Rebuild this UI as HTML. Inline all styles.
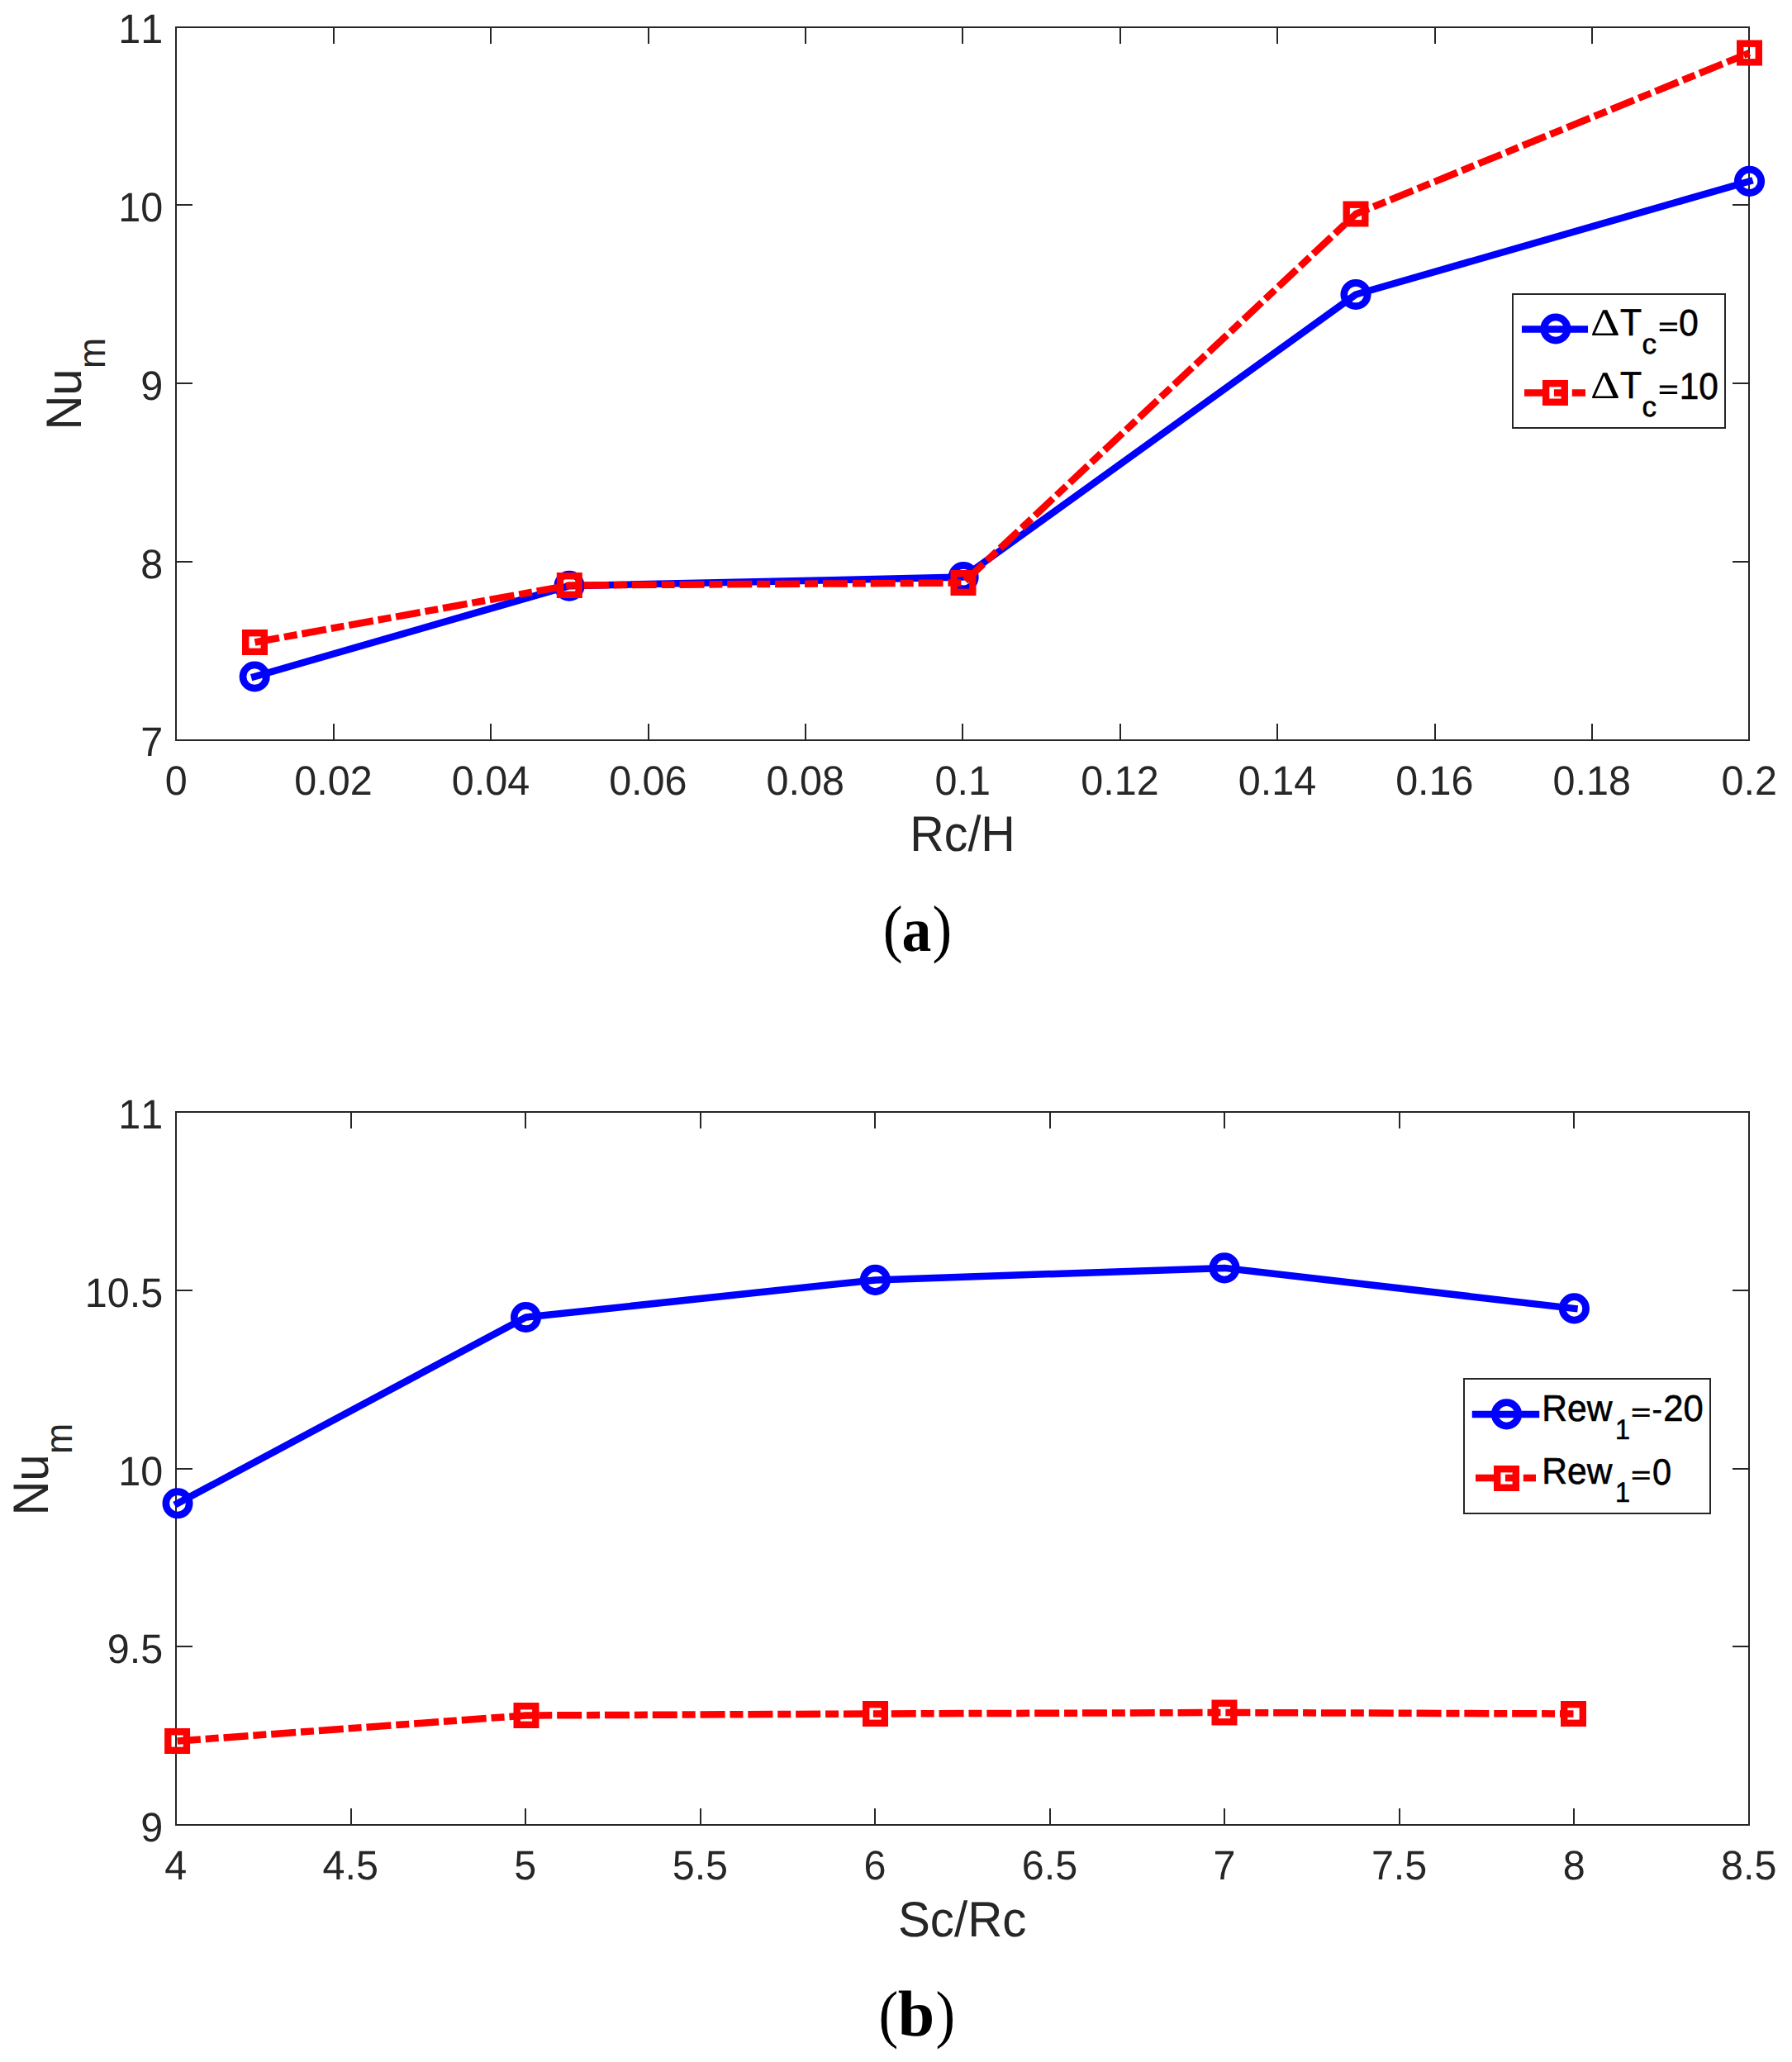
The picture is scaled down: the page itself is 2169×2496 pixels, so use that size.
<!DOCTYPE html>
<html lang="en"><head><meta charset="utf-8"><title>Nu_m plots</title>
<style>html,body{margin:0;padding:0;background:#fff}body{width:2169px;height:2496px;overflow:hidden}svg{display:block}text{font-family:"Liberation Sans",sans-serif;font-kerning:none;text-rendering:geometricPrecision}.cap{font-family:"Liberation Serif",serif}</style>
</head><body>
<svg width="2169" height="2496" viewBox="0 0 2169 2496">
<rect width="2169" height="2496" fill="#fff"/>
<rect x="213" y="33" width="1904" height="863" fill="#fff" stroke="#262626" stroke-width="2"/>
<path d="M404 896v-20M404 33v20M594 896v-20M594 33v20M785 896v-20M785 33v20M975 896v-20M975 33v20M1165 896v-20M1165 33v20M1356 896v-20M1356 33v20M1546 896v-20M1546 33v20M1737 896v-20M1737 33v20M1927 896v-20M1927 33v20M213 680h20M2117 680h-20M213 464h20M2117 464h-20M213 248h20M2117 248h-20" fill="none" stroke="#262626" stroke-width="2"/>
<g font-size="48.5" fill="#262626" text-anchor="middle">
<text transform="translate(213.15,961.5) scale(1,1.025)">0</text>
<text transform="translate(403.55,961.5) scale(1,1.025)">0.02</text>
<text transform="translate(593.95,961.5) scale(1,1.025)">0.04</text>
<text transform="translate(784.35,961.5) scale(1,1.025)">0.06</text>
<text transform="translate(974.75,961.5) scale(1,1.025)">0.08</text>
<text transform="translate(1165.15,961.5) scale(1,1.025)">0.1</text>
<text transform="translate(1355.55,961.5) scale(1,1.025)">0.12</text>
<text transform="translate(1545.95,961.5) scale(1,1.025)">0.14</text>
<text transform="translate(1736.35,961.5) scale(1,1.025)">0.16</text>
<text transform="translate(1926.75,961.5) scale(1,1.025)">0.18</text>
<text transform="translate(2117.15,961.5) scale(1,1.025)">0.2</text>
</g>
<g font-size="48.5" fill="#262626" text-anchor="end">
<text transform="translate(197.2,915.4) scale(1,1.025)">7</text>
<text transform="translate(197.2,699.65) scale(1,1.025)">8</text>
<text transform="translate(197.2,483.9) scale(1,1.025)">9</text>
<text transform="translate(197.2,268.15) scale(1,1.025)">10</text>
<text transform="translate(197.2,52.4) scale(1,1.025)">11</text>
</g>
<polyline points="308.2,819 689,709.2 1166.1,698.6 1641,356.5 2117.5,219.4" fill="none" stroke="#0000ff" stroke-width="8.5" stroke-linecap="square" stroke-linejoin="round"/>
<circle cx="308.2" cy="819" r="14.2" fill="none" stroke="#0000ff" stroke-width="8.7"/>
<circle cx="689" cy="709.2" r="14.2" fill="none" stroke="#0000ff" stroke-width="8.7"/>
<circle cx="1166.1" cy="698.6" r="14.2" fill="none" stroke="#0000ff" stroke-width="8.7"/>
<circle cx="1641" cy="356.5" r="14.2" fill="none" stroke="#0000ff" stroke-width="8.7"/>
<circle cx="2117.5" cy="219.4" r="14.2" fill="none" stroke="#0000ff" stroke-width="8.7"/>
<polyline points="308.5,777.5 689.3,708.5 1166,705.5 1641,259 2117.5,64" fill="none" stroke="#ff0000" stroke-width="8.5" stroke-dasharray="30 5.9 16 5.9" stroke-dashoffset="0" stroke-linejoin="round"/>
<rect x="297.2" y="766.2" width="22.6" height="22.6" fill="none" stroke="#ff0000" stroke-width="8.4"/>
<rect x="678" y="697.2" width="22.6" height="22.6" fill="none" stroke="#ff0000" stroke-width="8.4"/>
<rect x="1154.7" y="694.2" width="22.6" height="22.6" fill="none" stroke="#ff0000" stroke-width="8.4"/>
<rect x="1629.7" y="247.7" width="22.6" height="22.6" fill="none" stroke="#ff0000" stroke-width="8.4"/>
<rect x="2106.2" y="52.7" width="22.6" height="22.6" fill="none" stroke="#ff0000" stroke-width="8.4"/>
<text transform="translate(1101.2,1030.35) scale(0.9902,1.0400)" font-size="58" fill="#262626">Rc/H</text>
<g transform="translate(98,464) rotate(-90)" fill="#262626">
<text transform="translate(-56.55,0) scale(1,1.04)" font-size="58">Nu</text>
<text transform="translate(18.06,29) scale(1,1.04)" font-size="44.5">m</text>
</g>
<rect x="1831" y="356" width="257" height="162" fill="#fff" stroke="#262626" stroke-width="2"/>
<path d="M1846.2 398.5H1917.8" stroke="#0000ff" stroke-width="8.5" stroke-linecap="square" fill="none"/>
<circle cx="1882.9" cy="398" r="14.2" fill="none" stroke="#0000ff" stroke-width="8.7"/>
<path d="M1845 475.5H1919" stroke="#ff0000" stroke-width="8.5" stroke-dasharray="30 5.9 16 5.9" fill="none"/>
<rect x="1871.15" y="464.15" width="22.6" height="22.6" fill="none" stroke="#ff0000" stroke-width="8.4"/>
<text class="cap" transform="translate(1925,405.8) scale(1.2914,1.0807)" font-size="43.2" fill="#000">Δ</text>
<text transform="translate(1961.01,405.8) scale(0.9887,1.0689)" font-size="43.2" fill="#000" stroke="#000" stroke-width="0.6">T</text>
<text transform="translate(1987.45,427.62) scale(1.0325,1.0148)" font-size="34" fill="#000" stroke="#000" stroke-width="0.6">c</text>
<text font-weight="bold" transform="translate(2006.99,405.23) scale(0.9793,0.6412)" font-size="43.2" fill="#000">=</text>
<text transform="translate(2032.07,406.31) scale(0.9891,1.0351)" font-size="43.2" fill="#000" stroke="#000" stroke-width="0.6">0</text>
<text class="cap" transform="translate(1925,481.8) scale(1.2914,1.0807)" font-size="43.2" fill="#000">Δ</text>
<text transform="translate(1961.01,481.8) scale(0.9887,1.0689)" font-size="43.2" fill="#000" stroke="#000" stroke-width="0.6">T</text>
<text transform="translate(1987.45,503.62) scale(1.0325,1.0148)" font-size="34" fill="#000" stroke="#000" stroke-width="0.6">c</text>
<text font-weight="bold" transform="translate(2006.99,481.23) scale(0.9793,0.6412)" font-size="43.2" fill="#000">=</text>
<text transform="translate(2032.71,482.51) scale(0.9809,1.0449)" font-size="43.2" fill="#000" stroke="#000" stroke-width="0.6">10</text>
<text class="cap" transform="translate(1068.66,1149.53) scale(0.9316,1.0086)" font-size="77" fill="#000">(</text>
<text class="cap" font-weight="bold" transform="translate(1091.54,1150.51) scale(0.9938,1.0580)" font-size="72" fill="#000">a</text>
<text class="cap" transform="translate(1128.6,1149.53) scale(0.9215,1.0086)" font-size="77" fill="#000">)</text>
<rect x="213" y="1346" width="1904" height="863" fill="#fff" stroke="#262626" stroke-width="2"/>
<path d="M425 2209v-20M425 1346v20M636 2209v-20M636 1346v20M848 2209v-20M848 1346v20M1059 2209v-20M1059 1346v20M1271 2209v-20M1271 1346v20M1482 2209v-20M1482 1346v20M1694 2209v-20M1694 1346v20M1905 2209v-20M1905 1346v20M213 1993h20M2117 1993h-20M213 1778h20M2117 1778h-20M213 1562h20M2117 1562h-20" fill="none" stroke="#262626" stroke-width="2"/>
<g font-size="48.5" fill="#262626" text-anchor="middle">
<text transform="translate(212.7,2274.5) scale(1,1.025)">4</text>
<text transform="translate(424.26,2274.5) scale(1,1.025)">4.5</text>
<text transform="translate(635.81,2274.5) scale(1,1.025)">5</text>
<text transform="translate(847.37,2274.5) scale(1,1.025)">5.5</text>
<text transform="translate(1058.92,2274.5) scale(1,1.025)">6</text>
<text transform="translate(1270.48,2274.5) scale(1,1.025)">6.5</text>
<text transform="translate(1482.03,2274.5) scale(1,1.025)">7</text>
<text transform="translate(1693.59,2274.5) scale(1,1.025)">7.5</text>
<text transform="translate(1905.14,2274.5) scale(1,1.025)">8</text>
<text transform="translate(2116.7,2274.5) scale(1,1.025)">8.5</text>
</g>
<g font-size="48.5" fill="#262626" text-anchor="end">
<text transform="translate(197.2,2229.01) scale(1,1.025)">9</text>
<text transform="translate(197.2,2013.27) scale(1,1.025)">9.5</text>
<text transform="translate(197.2,1797.52) scale(1,1.025)">10</text>
<text transform="translate(197.2,1581.77) scale(1,1.025)">10.5</text>
<text transform="translate(197.2,1366.02) scale(1,1.025)">11</text>
</g>
<polyline points="215,1819.8 636.5,1594.5 1059.4,1549.4 1482,1534.9 1905.4,1583.9" fill="none" stroke="#0000ff" stroke-width="8.5" stroke-linecap="square" stroke-linejoin="round"/>
<circle cx="215" cy="1819.8" r="14.2" fill="none" stroke="#0000ff" stroke-width="8.7"/>
<circle cx="636.5" cy="1594.5" r="14.2" fill="none" stroke="#0000ff" stroke-width="8.7"/>
<circle cx="1059.4" cy="1549.4" r="14.2" fill="none" stroke="#0000ff" stroke-width="8.7"/>
<circle cx="1482" cy="1534.9" r="14.2" fill="none" stroke="#0000ff" stroke-width="8.7"/>
<circle cx="1905.4" cy="1583.9" r="14.2" fill="none" stroke="#0000ff" stroke-width="8.7"/>
<polyline points="214.6,2107.5 637,2076.5 1059.5,2074.5 1482,2073 1904.5,2074.5" fill="none" stroke="#ff0000" stroke-width="8.5" stroke-dasharray="30 5.9 16 5.9" stroke-dashoffset="1.7" stroke-linejoin="round"/>
<rect x="203.3" y="2096.2" width="22.6" height="22.6" fill="none" stroke="#ff0000" stroke-width="8.4"/>
<rect x="625.7" y="2065.2" width="22.6" height="22.6" fill="none" stroke="#ff0000" stroke-width="8.4"/>
<rect x="1048.2" y="2063.2" width="22.6" height="22.6" fill="none" stroke="#ff0000" stroke-width="8.4"/>
<rect x="1470.7" y="2061.7" width="22.6" height="22.6" fill="none" stroke="#ff0000" stroke-width="8.4"/>
<rect x="1893.2" y="2063.2" width="22.6" height="22.6" fill="none" stroke="#ff0000" stroke-width="8.4"/>
<text transform="translate(1086.96,2344.35) scale(1.0058,1.0400)" font-size="58" fill="#262626">Sc/Rc</text>
<g transform="translate(58,1778) rotate(-90)" fill="#262626">
<text transform="translate(-56.55,0) scale(1,1.04)" font-size="58">Nu</text>
<text transform="translate(18.06,29) scale(1,1.04)" font-size="44.5">m</text>
</g>
<rect x="1772" y="1669" width="298" height="163" fill="#fff" stroke="#262626" stroke-width="2"/>
<path d="M1786 1712H1859" stroke="#0000ff" stroke-width="8.5" stroke-linecap="square" fill="none"/>
<circle cx="1823.5" cy="1711.9" r="14.2" fill="none" stroke="#0000ff" stroke-width="8.7"/>
<path d="M1786 1789H1859" stroke="#ff0000" stroke-width="8.5" stroke-dasharray="30 5.9 16 5.9" fill="none"/>
<rect x="1812.2" y="1778.2" width="22.6" height="22.6" fill="none" stroke="#ff0000" stroke-width="8.4"/>
<text transform="translate(1866.35,1719.71) scale(0.9865,1.0390)" font-size="43.2" fill="#000" stroke="#000" stroke-width="0.6">Rew</text>
<text transform="translate(1954.94,1741.6) scale(0.9825,1.0286)" font-size="33" fill="#000" stroke="#000" stroke-width="0.6">1</text>
<text font-weight="bold" transform="translate(1974.11,1719.09) scale(0.9655,0.6351)" font-size="43.2" fill="#000">=</text>
<text transform="translate(1866.35,1795.71) scale(0.9865,1.0390)" font-size="43.2" fill="#000" stroke="#000" stroke-width="0.6">Rew</text>
<text transform="translate(1954.94,1817.6) scale(0.9825,1.0286)" font-size="33" fill="#000" stroke="#000" stroke-width="0.6">1</text>
<text font-weight="bold" transform="translate(1974.11,1795.09) scale(0.9655,0.6351)" font-size="43.2" fill="#000">=</text>
<text transform="translate(1999.31,1720.8) scale(0.9035,1.0667)" font-size="43.2" fill="#000">-</text>
<text transform="translate(2013.25,1720.01) scale(1.0102,1.0318)" font-size="43.2" fill="#000" stroke="#000" stroke-width="0.6">20</text>
<text transform="translate(1999.92,1796.62) scale(0.9600,1.0253)" font-size="43.2" fill="#000" stroke="#000" stroke-width="0.6">0</text>
<text class="cap" transform="translate(1063.57,2463.53) scale(0.9266,1.0086)" font-size="77" fill="#000">(</text>
<text class="cap" font-weight="bold" transform="translate(1086.83,2464.48) scale(1.1090,1.0916)" font-size="72" fill="#000">b</text>
<text class="cap" transform="translate(1132.6,2463.53) scale(0.9215,1.0086)" font-size="77" fill="#000">)</text>
</svg></body></html>
